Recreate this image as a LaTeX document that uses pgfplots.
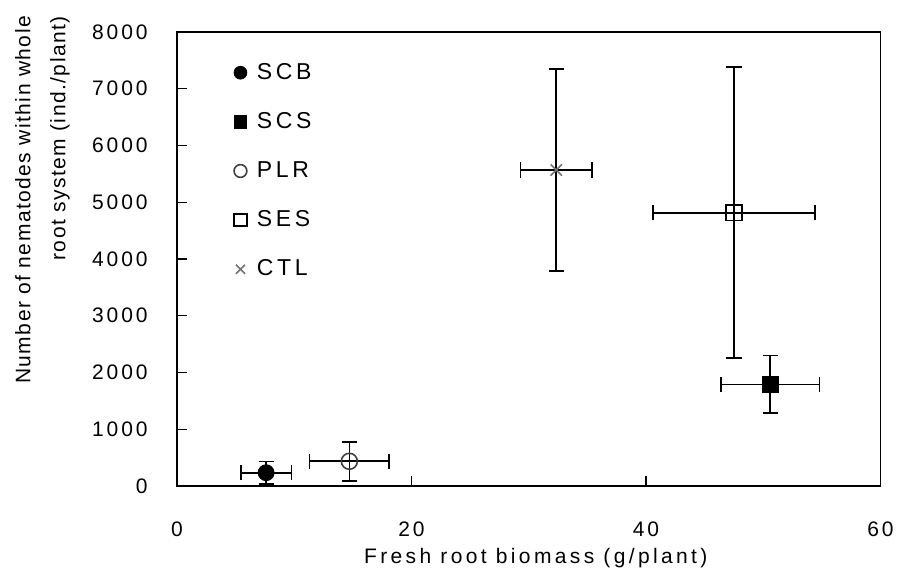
\documentclass[border=0pt]{standalone}
\usepackage{fontspec}
\setmainfont{Liberation Sans}[LetterSpace=14]
\usepackage{pgfplots}
\pgfplotsset{compat=1.18}
\pgfplotsset{eb/.style={
  error bars/x dir=both, error bars/y dir=both,
  error bars/x explicit, error bars/y explicit,
  error bars/error bar style={line width=0.85pt, black},
  error bars/error mark options={rotate=90, mark size=3.8pt, line width=0.85pt, black}}}
\begin{document}
\fontsize{10.5}{12.6}\selectfont
\begin{tikzpicture}
\begin{axis}[
  name=ax,
  scale only axis,
  width=351.75pt, height=227pt,
  xmin=0, xmax=60, ymin=0, ymax=8000,
  xtick={0,20,40,60}, ytick={0,1000,...,8000},
  tick align=inside, xtick pos=bottom, ytick pos=left,
  major tick length=5pt,
  axis line style={line width=0.7pt},
  every tick/.style={black, line width=0.7pt},
  /pgf/number format/assume math mode=true,
  /pgf/number format/1000 sep={},
  yticklabel style={xshift=-11pt},
  xticklabel style={yshift=-14pt},
  xlabel={Fresh root biomass (g/plant)},
  xlabel style={at={(axis description cs:0.51,-0.121)}, anchor=north,
    font=\fontsize{10.5}{12.6}\selectfont\addfontfeatures{LetterSpace=16}},
  ylabel={Number of nematodes within whole\\root system (ind./plant)},
  ylabel style={align=right, at={(axis description cs:-0.142,0.63)}, anchor=south,
    font=\fontsize{10.5}{17.5}\selectfont\addfontfeatures{LetterSpace=7}},
  legend style={at={(axis description cs:0.072,0.95)}, anchor=north west,
    draw=none, fill=none, row sep=11pt,
    font=\fontsize{11.5}{12.6}\selectfont\addfontfeatures{LetterSpace=16}},
  legend image post style={scale=0.8},
  legend cell align=left,
]
% SCB
\addplot[eb, only marks, mark=*, mark size=4pt, mark options={black, fill=black}]
  coordinates {(7.6,234) +- (2.17,195)};
% SCS
\addplot[eb, only marks, mark=square*, mark size=3.9pt, mark options={black, fill=black}]
  coordinates {(50.6,1790) +- (4.2,508)};
% PLR
\addplot[eb, only marks, mark=o, mark size=4pt, mark options={black!75, fill=white, line width=0.8pt}]
  coordinates {(14.7,435) +- (3.4,345)};
% SES
\addplot[eb, only marks, mark=square, mark size=3.9pt, mark options={black, fill=white, line width=0.9pt}]
  coordinates {(47.5,4815) +- (6.9,2565)};
% CTL
\addplot[eb, only marks, mark=x, mark size=4pt, mark options={black!55, line width=0.8pt}]
  coordinates {(32.35,5568) +- (3.05,1780)};
\legend{\hspace{3pt}SCB,\hspace{3pt}SCS,\hspace{3pt}PLR,\hspace{3pt}SES,\hspace{3pt}CTL}
\end{axis}
\pgfresetboundingbox
\path[use as bounding box] ([shift={(-88.5pt,-46.5pt)}]ax.south west) rectangle ([shift={(8.75pt,16pt)}]ax.north east);
\end{tikzpicture}
\end{document}
